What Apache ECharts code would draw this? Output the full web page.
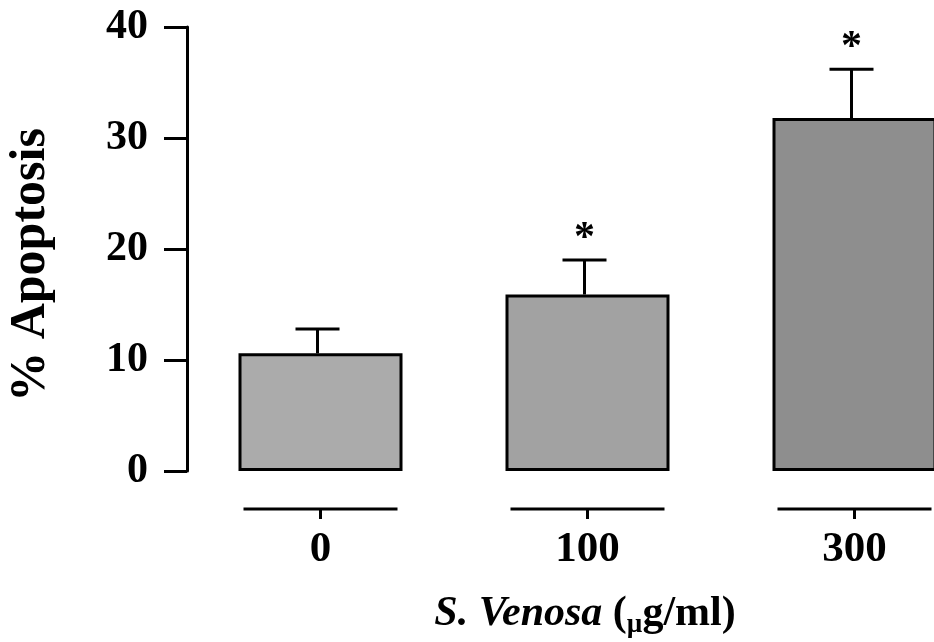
<!DOCTYPE html>
<html>
<head>
<meta charset="utf-8">
<script src="https://cdn.jsdelivr.net/npm/echarts@6/dist/echarts.min.js"></script>
<style>
  html, body { margin: 0; padding: 0; background: #fff; }
  #chart { width: 934px; height: 642px; }
</style>
</head>
<body>
<div id="chart"></div>
<script>
// ---- data ----
const categories = ['0', '100', '300'];
const apoptosisMean = [10.6, 15.9, 31.8];
const apoptosisErr = [2.2, 3.1, 4.4];
const significance = ['', '*', '*'];
const yTicks = [0, 10, 20, 30, 40];

const FONT = "'Times New Roman', 'Liberation Serif', serif";
const barColors = ['#ababab', '#a2a2a2', '#8e8e8e'];

const chart = echarts.init(document.getElementById('chart'), null, { renderer: 'canvas' });

const option = {
  backgroundColor: '#ffffff',
  animation: false,
  grid: { left: 187, width: 801, top: 27, height: 444, containLabel: false, outerBoundsMode: 'none' },
  xAxis: {
    type: 'category',
    data: categories,
    axisLine: { show: false },
    axisTick: { show: false },
    axisLabel: {
      margin: 57,
      color: '#000',
      fontFamily: FONT,
      fontWeight: 'bold',
      fontSize: 43
    }
  },
  yAxis: {
    type: 'value',
    min: yTicks[0],
    max: yTicks[yTicks.length - 1],
    interval: yTicks[1] - yTicks[0],
    splitLine: { show: false },
    axisLine: { show: true, lineStyle: { color: '#000', width: 3 } },
    axisTick: { show: true, inside: false, length: 23, lineStyle: { color: '#000', width: 3 } },
    axisLabel: {
      margin: 39,
      padding: [6, 0, 0, 0],
      color: '#000',
      fontFamily: FONT,
      fontWeight: 'bold',
      fontSize: 42
    }
  },
  graphic: [
    {
      type: 'text',
      x: 31,
      y: 265,
      rotation: Math.PI / 2,
      style: {
        text: '% Apoptosis',
        font: 'bold 50px ' + FONT,
        fill: '#000',
        textAlign: 'center',
        textVerticalAlign: 'middle'
      }
    },
    {
      type: 'text',
      x: 585,
      y: 614,
      style: {
        text: '{it|S. Venosa\u00a0}{b|(}{sub|µ}{b|g/ml)}',
        textAlign: 'center',
        textVerticalAlign: 'middle',
        fill: '#000',
        rich: {
          it: { font: 'italic bold 42px ' + FONT, fill: '#000' },
          b: { font: 'bold 42px ' + FONT, fill: '#000' },
          sub: { font: 'bold 27px ' + FONT, fill: '#000', padding: [22, 0, 0, 0] }
        }
      }
    }
  ],
  series: [
    {
      type: 'bar',
      name: 'Apoptosis',
      barWidth: 164,
      data: apoptosisMean.map((v, i) => ({
        value: v,
        itemStyle: { color: barColors[i] }
      })),
      itemStyle: { borderColor: '#000', borderWidth: 3 },
      z: 2
    },
    {
      type: 'custom',
      name: 'error',
      clip: false,
      z: 3,
      data: apoptosisMean.map((v, i) => [i, v, v + apoptosisErr[i], significance[i]]),
      renderItem: function (params, api) {
        const idx = api.value(0);
        const top = api.coord([idx, api.value(1)]);
        const hi = api.coord([idx, api.value(2)]);
        const half = 22;
        const star = significance[params.dataIndex];
        const children = [
          { type: 'line', shape: { x1: top[0] - 3, y1: top[1], x2: hi[0] - 3, y2: hi[1] },
            style: { stroke: '#000', lineWidth: 3 } },
          { type: 'line', shape: { x1: hi[0] - 3 - half, y1: hi[1], x2: hi[0] - 3 + half, y2: hi[1] },
            style: { stroke: '#000', lineWidth: 3 } }
        ];
        if (star) {
          children.push({
            type: 'text',
            x: hi[0] - 3,
            y: hi[1] - 21,
            style: {
              text: star,
              font: 'bold 42px ' + FONT,
              fill: '#000',
              textAlign: 'center',
              textVerticalAlign: 'middle'
            }
          });
        }
        return { type: 'group', children: children };
      }
    },
    {
      type: 'custom',
      name: 'axisSegments',
      clip: false,
      z: 3,
      data: categories.map((c, i) => [i, 0]),
      renderItem: function (params, api) {
        const p = api.coord([api.value(0), api.value(1)]);
        const y = p[1] + 38;
        const half = 77;
        return {
          type: 'group',
          children: [
            { type: 'line', shape: { x1: p[0] - half, y1: y, x2: p[0] + half, y2: y },
              style: { stroke: '#000', lineWidth: 3 } },
            { type: 'line', shape: { x1: p[0], y1: y, x2: p[0], y2: y + 10 },
              style: { stroke: '#000', lineWidth: 3 } }
          ]
        };
      }
    }
  ]
};

chart.setOption(option);
</script>
</body>
</html>
